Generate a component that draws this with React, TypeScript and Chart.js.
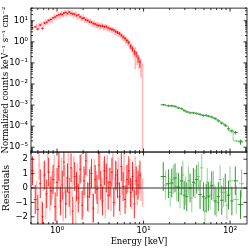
import React, { useEffect, useRef } from "react";
import { Chart, registerables } from "chart.js";
Chart.register(...registerables);

// ---- Spectrum data: detector A (dark red) ----
const ENERGY_A = [0.52,0.56,0.60,0.64,0.68,0.72,0.76,0.80,0.85,0.90,
  0.95,1.00,1.05,1.10,1.15,1.20,1.26,1.32,1.38,1.45,
  1.52,1.60,1.68,1.76,1.85,1.95,2.05,2.15,2.26,2.38,
  2.50,2.63,2.76,2.90,3.05,3.20,3.36,3.53,3.71,3.90,
  4.10,4.31,4.53,4.76,5.00,5.26,5.53,5.81,6.11,6.42,
  6.75,7.09,7.45,7.83,8.23,8.65,9.09];
const FLUX_A = [4.6,5.2,4.0,6.3,4.3,7.8,8.5,10.5,11.5,13.8,
  15.0,17.5,19.0,21.0,20.0,23.5,25.0,22.0,26.0,22.5,
  21.0,20.5,17.5,19.0,15.5,13.0,13.5,11.0,10.5,9.0,
  8.5,7.4,7.0,6.2,6.0,5.6,5.8,5.2,5.3,4.6,
  4.2,3.9,3.6,3.1,2.8,2.5,2.1,1.7,1.45,1.15,
  0.95,0.62,0.48,0.33,0.27,0.17,0.11];
const ERR_A = [0.5,0.5,0.5,0.6,0.5,0.8,0.8,1.0,1.1,1.3,
  1.4,1.6,1.8,2.0,2.0,2.3,2.4,2.2,2.6,2.3,
  2.2,2.1,1.9,2.0,1.7,1.5,1.5,1.3,1.2,1.1,
  1.0,0.9,0.9,0.8,0.8,0.7,0.8,0.7,0.7,0.6,
  0.6,0.6,0.5,0.5,0.45,0.4,0.35,0.3,0.28,0.24,
  0.2,0.15,0.13,0.1,0.09,0.07,0.05];
const RESID_A = [1.2,-0.8,-1.5,0.3,-2.0,0.9,-0.4,1.1,-0.2,0.6,
  -1.3,0.4,1.5,-0.9,0.2,1.8,-1.1,0.7,-0.3,1.4,
  -1.6,0.8,0.1,-0.7,1.3,-1.2,0.5,1.9,-0.6,0.3,
  1.0,-1.4,0.6,-0.1,1.6,0.2,-0.9,1.2,0.7,-0.5,
  0.4,1.1,-1.0,0.9,0.3,-0.6,1.5,0.1,-0.8,0.6,
  1.2,-0.3,0.8,-1.1,0.5,0.2,0.9];

// ---- Spectrum data: detector B (light red) ----
const ENERGY_B = [0.58,0.62,0.66,0.70,0.74,0.78,0.83,0.88,0.93,0.98,
  1.03,1.08,1.13,1.18,1.23,1.29,1.35,1.42,1.49,1.56,
  1.64,1.72,1.81,1.90,2.00,2.10,2.21,2.32,2.44,2.57,
  2.70,2.84,2.98,3.13,3.29,3.45,3.62,3.80,4.00,4.20,
  4.42,4.64,4.88,5.13,5.39,5.67,5.96,6.26,6.58,6.92,
  7.27,7.64,8.03,8.44,8.87,9.32,9.75];
const FLUX_B = [5.5,6.0,7.0,7.2,8.6,9.5,11.0,12.5,15.5,16.0,
  19.5,18.0,22.5,21.0,24.5,22.0,27.0,23.5,24.0,19.5,
  21.5,16.5,17.0,14.0,14.5,12.0,11.5,9.5,9.8,7.8,
  7.6,6.5,6.6,5.6,6.1,5.0,5.5,4.8,4.5,3.9,
  3.8,3.2,3.0,2.6,2.3,1.8,1.6,1.25,1.05,0.75,
  0.58,0.38,0.30,0.20,0.14,0.08,0.035];
const ERR_B = [1.8,2.0,2.3,2.4,2.8,3.1,3.6,4.1,5.0,5.2,
  6.3,5.9,7.2,6.8,7.8,7.1,8.6,7.5,7.7,6.3,
  6.9,5.3,5.5,4.5,4.7,3.9,3.7,3.1,3.2,2.6,
  2.5,2.2,2.2,1.9,2.0,1.7,1.8,1.6,1.5,1.3,
  1.3,1.1,1.0,0.9,0.8,0.65,0.6,0.48,0.42,0.32,
  0.26,0.2,0.25,0.12,0.09,0.06,0.06];
const RESID_B = [-0.5,1.6,-1.9,0.8,-1.2,2.0,-0.6,0.2,1.3,-1.7,
  0.9,-0.4,1.1,-1.3,0.6,-0.2,1.7,-0.9,0.4,1.2,
  -1.5,0.7,-0.1,1.4,-1.0,0.3,1.8,-0.7,0.5,-1.4,
  1.0,0.2,-0.8,1.5,-0.3,0.9,-1.1,1.3,0.4,-0.6,
  1.6,-0.2,0.8,1.1,-0.9,0.5,1.4,-0.4,0.7,1.0,
  -0.5,0.3,1.2,-0.2,0.6,0.1,-0.3];

// ---- Hard X-ray data: dark green ----
const ENERGY_G1 = [16.9,19.4,21.2,23.1,25.3,27.6,29.5,31.6,34.5,37.7,41.2,45.0,49.2,53.0,56.1,61.4,67.1,73.3,80.2,88,96,105,115,132];
const FLUX_G1 = [1.03e-3,9.3e-4,9.3e-4,8.7e-4,7.3e-4,6.8e-4,5.5e-4,4.8e-4,4.3e-4,4.3e-4,4.0e-4,3.6e-4,3.2e-4,3.3e-4,3.0e-4,2.7e-4,2.3e-4,1.8e-4,1.4e-4,1.1e-4,7.5e-5,6.0e-5,5.0e-5,1.8e-5];
const ERR_G1 = [1.2e-4,1.1e-4,1.1e-4,1.0e-4,9e-5,8e-5,7e-5,6e-5,5.5e-5,5.5e-5,5e-5,4.5e-5,4.2e-5,4.3e-5,4e-5,3.6e-5,3.2e-5,2.6e-5,2.1e-5,1.8e-5,1.3e-5,1.1e-5,1e-5,5e-6];
const RESID_G1 = [0.8,0.3,0.35,0.7,0.05,0.5,-0.5,-0.6,0.0,0.4,0.6,-0.45,-0.6,-0.7,-0.6,0.15,-0.9,-0.6,-0.85,0.0,-0.5,-0.9,0.5,-1.15];

// ---- Hard X-ray data: light green ----
const ENERGY_G2 = [18.0,20.3,22.1,24.2,26.4,28.5,30.5,33.0,36.1,39.4,43.1,47.1,51.1,54.5,58.7,64.2,70.1,76.7,84.0,92,100,118,136];
const FLUX_G2 = [9.6e-4,9.2e-4,8.8e-4,8.0e-4,7.0e-4,6.2e-4,5.3e-4,4.7e-4,4.4e-4,4.1e-4,3.8e-4,3.4e-4,3.2e-4,3.1e-4,2.9e-4,2.5e-4,2.1e-4,1.6e-4,1.3e-4,1.0e-4,6.0e-5,2.0e-5,2.0e-5];
const ERR_G2 = [7.7e-5,7.4e-5,7e-5,6.4e-5,5.6e-5,5e-5,4.2e-5,3.8e-5,3.5e-5,3.3e-5,3e-5,2.7e-5,2.6e-5,2.5e-5,2.3e-5,2e-5,1.7e-5,1.3e-5,1.1e-5,9e-6,6e-6,3e-6,3e-6];
const RESID_G2 = [0.2,-0.3,0.6,0.1,-0.4,0.9,-0.2,0.5,-0.7,0.3,0.8,1.4,-1.6,0.4,-0.5,0.2,-1.0,0.6,-0.3,-1.2,0.5,-0.8,0.3];

const RESID_ERR = 1; // residuals are in units of sigma

const X_TICKS = [1, 10, 100];
const Y_TICKS = [1e-5, 1e-4, 1e-3, 1e-2, 1e-1, 1, 10];
const R_TICKS = [-2, -1, 0, 1, 2];

const X_MIN = 0.5, X_MAX = 157;
const Y_MIN = 5.9e-6, Y_MAX = 40;
const R_MIN = -2.5, R_MAX = 2.5;

const SUP: Record<string, string> = { "-": "⁻", "0": "⁰", "1": "¹", "2": "²", "3": "³", "4": "⁴", "5": "⁵", "6": "⁶", "7": "⁷", "8": "⁸", "9": "⁹" };
const sup = (s: string) => s.split("").map((c) => SUP[c] ?? c).join("");
const powLabel = (v: number) => "10" + sup(String(Math.round(Math.log10(v))));

type Series = { energy: number[]; flux: number[]; err: number[]; resid: number[]; color: string; width: number; step?: boolean };
const SERIES: Series[] = [
  { energy: ENERGY_B, flux: FLUX_B, err: ERR_B, resid: RESID_B, color: "rgba(255,60,60,0.35)", width: 1.6 },
  { energy: ENERGY_A, flux: FLUX_A, err: ERR_A, resid: RESID_A, color: "rgba(255,0,0,0.85)", width: 1 },
  { energy: ENERGY_G2, flux: FLUX_G2, err: ERR_G2, resid: RESID_G2, color: "rgba(90,185,90,0.65)", width: 1, step: true },
  { energy: ENERGY_G1, flux: FLUX_G1, err: ERR_G1, resid: RESID_G1, color: "rgba(30,140,30,0.9)", width: 1 },
];

function binEdges(E: number[]): [number, number][] {
  return E.map((e, i) => {
    const lo = i > 0 ? Math.sqrt(E[i - 1] * e) : (e * e) / Math.sqrt(e * E[i + 1]);
    const hi = i < E.length - 1 ? Math.sqrt(E[i + 1] * e) : (e * e) / Math.sqrt(e * E[i - 1]);
    return [lo, hi];
  });
}

const errorBarPlugin = {
  id: "errorBars",
  beforeDatasetsDraw(chart: any) {
    const { ctx } = chart;
    const xs = chart.scales.x, ys = chart.scales.y, rs = chart.scales.y2;
    const panels = [
      { scale: ys, key: "flux" as const },
      { scale: rs, key: "resid" as const },
    ];
    for (const p of panels) {
      ctx.save();
      ctx.beginPath();
      ctx.rect(xs.left, p.scale.top, xs.right - xs.left, p.scale.bottom - p.scale.top);
      ctx.clip();
      for (const s of SERIES) {
        const edges = binEdges(s.energy);
        ctx.strokeStyle = s.color;
        ctx.lineWidth = s.width;
        ctx.beginPath();
        s.energy.forEach((e, i) => {
          const v = p.key === "flux" ? s.flux[i] : s.resid[i];
          const err = p.key === "flux" ? s.err[i] : RESID_ERR;
          const px = xs.getPixelForValue(e);
          const py = p.scale.getPixelForValue(v);
          const top = p.scale.getPixelForValue(v + err);
          const lowV = v - err;
          const bot = p.key === "flux" && lowV <= 0 ? p.scale.bottom + 5 : p.scale.getPixelForValue(lowV);
          ctx.moveTo(px, top);
          ctx.lineTo(px, bot);
          if (!s.step || p.key === "resid") {
            ctx.moveTo(xs.getPixelForValue(edges[i][0]), py);
            ctx.lineTo(xs.getPixelForValue(edges[i][1]), py);
          }
        });
        ctx.stroke();
      }
      ctx.restore();
    }
  },
};

function minorList(lo: number, hi: number, d0: number, d1: number) {
  const out: [number, boolean][] = [];
  for (let d = d0; d <= d1; d++) {
    for (let m = 1; m <= 9; m++) {
      const v = m * Math.pow(10, d);
      if (v >= lo && v <= hi) out.push([v, m === 1]);
    }
  }
  return out;
}

const framePlugin = {
  id: "frame",
  afterDraw(chart: any) {
    const { ctx } = chart;
    const xs = chart.scales.x, ys = chart.scales.y, rs = chart.scales.y2;
    const L = xs.left, R = xs.right;
    const seg = (x1: number, y1: number, x2: number, y2: number) => {
      ctx.beginPath();
      ctx.moveTo(x1, y1);
      ctx.lineTo(x2, y2);
      ctx.stroke();
    };
    ctx.save();
    const z = rs.getPixelForValue(0);
    ctx.strokeStyle = "#333";
    ctx.lineWidth = 1;
    seg(L, z, R, z);
    ctx.strokeStyle = "#000";
    ctx.lineWidth = 0.8;
    const xt = minorList(X_MIN, X_MAX, -1, 2);
    for (const panel of [ys, rs]) {
      const T = panel.top, B = panel.bottom;
      ctx.strokeRect(L, T, R - L, B - T);
      for (const [v, major] of xt) {
        const p = xs.getPixelForValue(v);
        const len = major ? 3.5 : 2;
        seg(p, T, p, T + len);
        seg(p, B, p, B - len);
      }
      const yt: [number, boolean][] = panel === ys ? minorList(Y_MIN, Y_MAX, -6, 1) : R_TICKS.map((v) => [v, true]);
      for (const [v, major] of yt) {
        const p = panel.getPixelForValue(v);
        const len = major ? 3.5 : 2;
        seg(L, p, L + len, p);
        seg(R, p, R - len, p);
      }
    }
    ctx.restore();
  },
};

const TICK_FONT = { family: "DejaVu Sans", size: 8.5 };

export default function App() {
  const ref = useRef<HTMLCanvasElement>(null);
  useEffect(() => {
    if (!ref.current) return;
    const datasets: any[] = [];
    for (const s of SERIES) {
      datasets.push({
        type: s.step ? "line" : "scatter",
        data: s.energy.map((e, i) => ({ x: e, y: s.flux[i] })),
        xAxisID: "x",
        yAxisID: "y",
        borderColor: s.color,
        backgroundColor: s.color,
        borderWidth: s.width,
        pointRadius: 0,
        showLine: !!s.step,
        stepped: s.step ? "middle" : false,
      });
      datasets.push({
        type: "scatter",
        data: s.energy.map((e, i) => ({ x: e, y: s.resid[i] })),
        xAxisID: "x",
        yAxisID: "y2",
        borderColor: s.color,
        pointRadius: 0,
        showLine: false,
      });
    }
    const chart = new Chart(ref.current, {
      type: "scatter",
      data: { datasets },
      plugins: [errorBarPlugin, framePlugin],
      options: {
        animation: false,
        responsive: false,
        events: [],
        layout: { padding: { top: 2, right: 2, left: 0, bottom: 0 } },
        plugins: { legend: { display: false }, tooltip: { enabled: false } },
        scales: {
          x: {
            type: "logarithmic",
            position: "bottom",
            min: X_MIN,
            max: X_MAX,
            afterBuildTicks: (s: any) => { s.ticks = X_TICKS.map((v) => ({ value: v })); },
            afterFit: (s: any) => { s.height = 24; },
            grid: { display: false, drawTicks: false },
            border: { display: false },
            ticks: { callback: (v: any) => powLabel(Number(v)), font: TICK_FONT, color: "#000", padding: 2, maxRotation: 0, autoSkip: false },
            title: { display: true, text: "Energy [keV]", font: { family: "DejaVu Serif", size: 8.5 }, color: "#000", padding: { top: 0, bottom: 1.5 } },
          },
          y2: {
            type: "linear",
            position: "left",
            stack: "panels",
            stackWeight: 1,
            min: R_MIN,
            max: R_MAX,
            afterBuildTicks: (s: any) => { s.ticks = R_TICKS.map((v) => ({ value: v })); },
            afterFit: (s: any) => { s.width = 31; },
            grid: { display: false, drawTicks: false },
            border: { display: false },
            ticks: { callback: (v: any) => String(v).replace("-", "−"), font: TICK_FONT, color: "#000", padding: 3, autoSkip: false },
            title: { display: true, text: "Residuals", font: { family: "DejaVu Serif", size: 9.5 }, color: "#000", padding: { top: 1, bottom: 0 } },
          },
          y: {
            type: "logarithmic",
            position: "left",
            stack: "panels",
            stackWeight: 2,
            min: Y_MIN,
            max: Y_MAX,
            afterBuildTicks: (s: any) => { s.ticks = Y_TICKS.map((v) => ({ value: v })); },
            afterFit: (s: any) => { s.width = 31; },
            grid: { display: false, drawTicks: false },
            border: { display: false },
            ticks: { callback: (v: any) => powLabel(Number(v)), font: TICK_FONT, color: "#000", padding: 3, autoSkip: false },
            title: { display: true, text: "Normalized counts keV⁻¹ s⁻¹ cm⁻²", font: { family: "DejaVu Serif", size: 8.5 }, color: "#000", padding: { top: 1, bottom: 0 } },
          },
        },
      } as any,
    });
    return () => chart.destroy();
  }, []);
  return (
    <div style={{ position: "absolute", left: 0, top: 0, width: 249, height: 248, background: "#fff" }}>
      <canvas ref={ref} width={249} height={248} style={{ display: "block", width: 249, height: 248 }} />
    </div>
  );
}
